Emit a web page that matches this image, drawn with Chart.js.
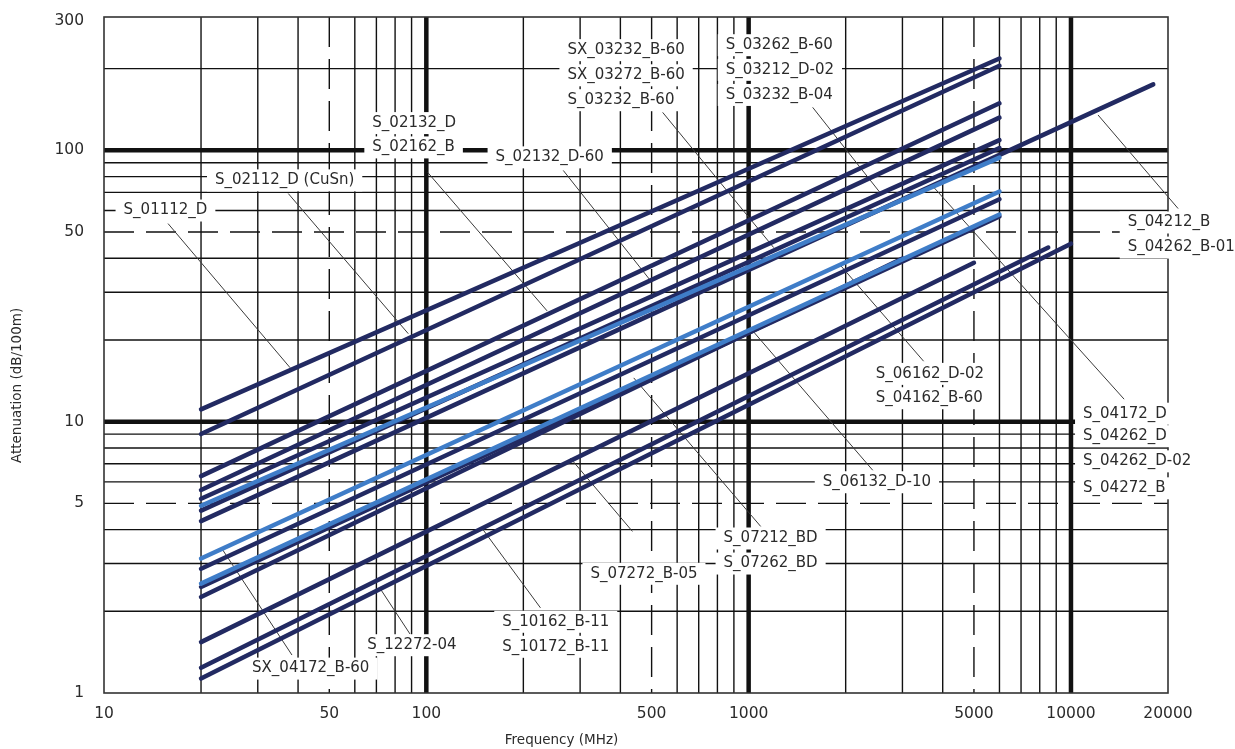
<!DOCTYPE html>
<html>
<head>
<meta charset="utf-8">
<script src="https://cdn.jsdelivr.net/npm/chart.js@4.4.1/dist/chart.umd.min.js"></script>
<style>
	html, body { margin: 0; padding: 0; background: #fff; }
	canvas { display: block; }
</style>
</head>
<body>
<canvas id="myChart" width="1235" height="749"></canvas>
<script>
// Attenuation curves: value at 20 MHz and at the last frequency drawn
const startFreq = 20
const cables = [
	'S_01112_D', 'S_02112_D (CuSn)', 'S_02132_D', 'S_02162_B', 'S_02132_D-60',
	'SX_03232_B-60', 'S_03232_B-60', 'S_04212_B', 'SX_04172_B-60', 'S_04162_B-60',
	'S_04262_B-01', 'S_06162_D-02', 'S_06132_D-10', 'S_07212_BD', 'S_10162_B-11', 'S_10172_B-11'
]
const attStart = [11.1, 9.0, 6.3, 5.6, 5.2, 4.9, 4.7, 4.3, 3.13, 2.87, 2.53, 2.46, 2.26, 1.54, 1.24, 1.13]
const endFreq = [6000, 6000, 6000, 6000, 6000, 6000, 6000, 18000, 6000, 6000, 6000, 6000, 3000, 5000, 8500, 10000]
const attEnd = [218, 205, 149, 132, 109, 94, 102, 175, 70.5, 66, 58, 57, 39.9, 38.5, 43.8, 45.3]

// axis ticks and paper grid
const xTickValues = [10, 50, 100, 500, 1000, 5000, 10000, 20000]
const yTickValues = [1, 5, 10, 50, 100, 300]
const xGridValues = [20, 30, 40, 50, 60, 70, 80, 90, 100, 200, 300, 400, 500, 600, 700, 800, 900,
	1000, 2000, 3000, 4000, 5000, 6000, 7000, 8000, 9000, 10000]
const yGridValues = [2, 3, 4, 5, 6, 7, 8, 9, 10, 20, 30, 40, 50, 60, 70, 80, 90, 100, 200]

// callout texts, anchored at (frequency, attenuation) of the text's left middle
const calloutText = [
	'S_01112_D', 'S_02112_D (CuSn)', 'S_02132_D', 'S_02162_B', 'S_02132_D-60',
	'SX_03232_B-60', 'SX_03272_B-60', 'S_03232_B-60', 'S_03262_B-60', 'S_03212_D-02', 'S_03232_B-04',
	'S_04212_B', 'S_04262_B-01', 'S_06162_D-02', 'S_04162_B-60',
	'S_04172_D', 'S_04262_D', 'S_04262_D-02', 'S_04272_B', 'S_06132_D-10',
	'S_07212_BD', 'S_07262_BD', 'S_07272_B-05', 'S_10162_B-11', 'S_10172_B-11', 'S_12272-04', 'SX_04172_B-60'
]
const calloutFreq = [11.5, 22.1, 68, 68, 164, 274, 274, 274, 849, 849, 849, 15000, 15000, 2480, 2480,
	10900, 10900, 10900, 10900, 1698, 836, 836, 323, 172, 172, 65.6, 28.8]
const calloutAtt = [60, 77.5, 126, 102.5, 94.2, 234, 189, 153, 244, 198, 160, 54.2, 43.8, 15.0, 12.2,
	10.7, 8.84, 7.14, 5.68, 5.98, 3.71, 3.0, 2.75, 1.83, 1.48, 1.50, 1.23]

// leader lines: [freq, att] -> [freq, att]
const leaderFrom = [[15.8, 53.7], [37.3, 69.3], [101, 82.9], [266, 84.3], [541, 138], [1580, 144],
	[12130, 135], [1930, 37.6], [3755, 73], [1030, 21.6], [440, 14.5], [280, 7.33], [149, 4.04], [72, 2.42], [23.3, 3.38]]
const leaderTo = [[37.8, 15.8], [87.9, 21.1], [237, 25.6], [496, 33.1], [1196, 43.8], [2570, 69.3],
	[21500, 61.0], [3490, 16.7], [14620, 12.1], [2427, 6.62], [1090, 4.11], [436, 3.94], [226, 2.06], [89, 1.65], [38.3, 1.38]]

;(() => {
	'use strict'

	const navy = '#222a62'
	const lightBlue = '#3f7dc8'
	const blueLines = [5, 8, 10]
	const thickGrid = [10, 100, 1000, 10000]
	const dashedGrid = [5, 50, 500, 5000]
	const textFont = '15px "DejaVu Sans"'
	const textColor = '#2b2b2b'

	const paperGrid = {
		id: 'paperGrid',
		beforeDatasetsDraw(chart) {
			const { ctx, chartArea: a, scales: { x, y } } = chart
			ctx.save()
			ctx.strokeStyle = '#111'
			const seg = (x1, y1, x2, y2, w, dash) => {
				ctx.lineWidth = w
				ctx.setLineDash(dash)
				ctx.beginPath()
				ctx.moveTo(x1, y1)
				ctx.lineTo(x2, y2)
				ctx.stroke()
			}
			xGridValues.forEach(v => {
				const px = x.getPixelForValue(v)
				seg(px, a.top, px, a.bottom, thickGrid.includes(v) ? 4.5 : 1.4, dashedGrid.includes(v) ? [30, 12] : [])
			})
			yGridValues.forEach(v => {
				const py = y.getPixelForValue(v)
				seg(a.left, py, a.right, py, thickGrid.includes(v) ? 4.5 : 1.4, dashedGrid.includes(v) ? [30, 12] : [])
			})
			ctx.setLineDash([])
			ctx.lineWidth = 1.6
			ctx.strokeStyle = '#333'
			ctx.strokeRect(a.left, a.top, a.right - a.left, a.bottom - a.top)

			// white boxes behind callouts cut the grid
			ctx.font = textFont
			ctx.textBaseline = 'middle'
			ctx.textAlign = 'left'
			calloutText.forEach((t, i) => {
				const px = x.getPixelForValue(calloutFreq[i])
				const py = y.getPixelForValue(calloutAtt[i])
				const w = ctx.measureText(t).width
				ctx.fillStyle = '#fff'
				ctx.fillRect(px - 8, py - 11, w + 16, 22)
			})
			ctx.fillStyle = textColor
			calloutText.forEach((t, i) => {
				ctx.fillText(t, x.getPixelForValue(calloutFreq[i]), y.getPixelForValue(calloutAtt[i]))
			})

			// leader lines
			ctx.strokeStyle = '#3a3a3a'
			ctx.lineWidth = 1
			leaderFrom.forEach((p, i) => {
				const q = leaderTo[i]
				ctx.beginPath()
				ctx.moveTo(x.getPixelForValue(p[0]), y.getPixelForValue(p[1]))
				ctx.lineTo(x.getPixelForValue(q[0]), y.getPixelForValue(q[1]))
				ctx.stroke()
			})
			ctx.restore()
		},
		afterDraw(chart) {
			const { ctx, chartArea: a } = chart
			ctx.save()
			ctx.fillStyle = textColor
			ctx.textAlign = 'center'
			ctx.textBaseline = 'middle'
			ctx.font = '13.5px "DejaVu Sans"'
			ctx.fillText('Frequency (MHz)', a.left + (a.right - a.left) * 0.43, 740)
			ctx.translate(17, a.top + (a.bottom - a.top) * 0.545)
			ctx.rotate(-Math.PI / 2)
			ctx.fillText('Attenuation (dB/100m)', 0, 0)
			ctx.restore()
		}
	}

	const ctx = document.getElementById('myChart')
	// eslint-disable-next-line no-unused-vars
	const myChart = new Chart(ctx, {
		type: 'line',
		data: {
			datasets: cables.map((name, i) => ({
				label: name,
				data: [{ x: startFreq, y: attStart[i] }, { x: endFreq[i], y: attEnd[i] }],
				borderColor: blueLines.includes(i) ? lightBlue : navy,
				backgroundColor: 'transparent',
				borderWidth: 4.5,
				borderCapStyle: 'round',
				pointRadius: 0,
				tension: 0,
				order: blueLines.includes(i) ? 0 : 1
			}))
		},
		options: {
			responsive: false,
			animation: false,
			events: [],
			layout: { padding: { left: 0, right: 67, top: 17, bottom: 0 } },
			plugins: {
				legend: { display: false },
				tooltip: { enabled: false }
			},
			scales: {
				x: {
					type: 'logarithmic',
					min: 10,
					max: 20000,
					grid: { display: false, drawTicks: false },
					border: { display: false },
					afterBuildTicks: s => { s.ticks = xTickValues.map(v => ({ value: v })) },
					afterFit: s => {
						s.height = 56
						s.paddingLeft = 0
						s.paddingRight = 0
					},
					ticks: {
						autoSkip: false,
						maxRotation: 0,
						padding: 12,
						color: textColor,
						font: { family: 'DejaVu Sans', size: 15.5 },
						callback: v => String(v)
					}
				},
				y: {
					type: 'logarithmic',
					min: 1,
					max: 310,
					grid: { display: false, drawTicks: false },
					border: { display: false },
					afterBuildTicks: s => { s.ticks = yTickValues.map(v => ({ value: v })) },
					afterFit: s => {
						s.width = 104
						s.paddingTop = 0
						s.paddingBottom = 0
					},
					ticks: {
						autoSkip: false,
						padding: 20,
						color: textColor,
						font: { family: 'DejaVu Sans', size: 15.5 },
						callback: v => String(v)
					}
				}
			}
		},
		plugins: [paperGrid]
	})
})()
</script>
</body>
</html>
